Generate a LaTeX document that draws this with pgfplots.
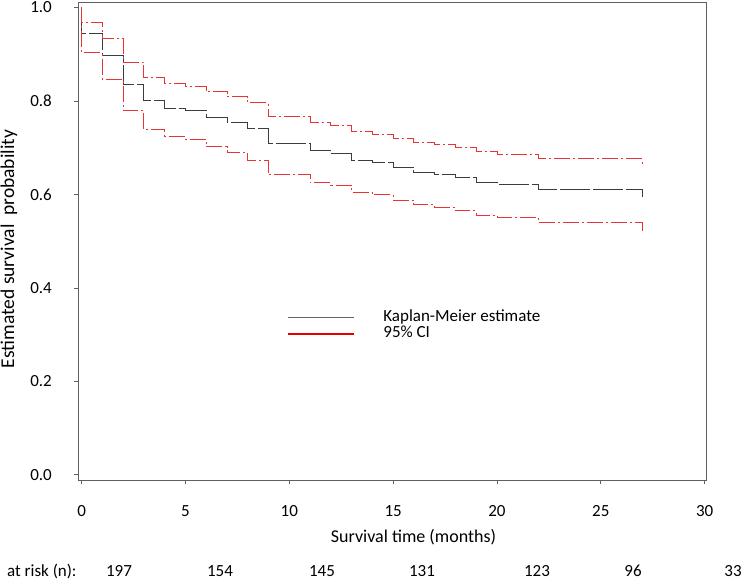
\documentclass[border=0pt]{standalone}
\usepackage{pgfplots}
\pgfplotsset{compat=1.18}
\usepackage{fontspec}
\setmainfont{Carlito}
\definecolor{kmgray}{RGB}{60,60,60}
\definecolor{cired}{RGB}{232,52,52}
\definecolor{framegray}{RGB}{95,95,95}
\begin{document}
\begin{tikzpicture}
\useasboundingbox (-78.3pt,-102.5pt) rectangle (665.7pt,480.5pt);
\begin{axis}[
  at={(0pt,0pt)}, anchor=south west,
  scale only axis, width=628.4pt, height=478.2pt,
  xmin=-0.16, xmax=30.1, ymin=-0.012, ymax=1.011,
  xtick={0,5,...,30}, ytick={0,0.2,0.4,0.6,0.8,1.0},
  tick pos=left, tick align=outside, major tick length=4pt,
  axis line style={framegray, line width=1pt},
  every tick/.style={framegray, line width=0.8pt},
  /pgf/number format/assume math mode=true,
  font=\fontsize{17}{20}\selectfont,
  yticklabel style={/pgf/number format/fixed, /pgf/number format/fixed zerofill, /pgf/number format/precision=1,
    anchor=east, inner sep=0pt, xshift=-22.3pt},
  xticklabel style={anchor=base, inner sep=0pt, yshift=-32.5pt},
  xlabel={Survival time (months)},
  ylabel={Estimated survival\ \ probability},
  xlabel style={at={(axis description cs:0.5334,0)}, anchor=center, inner sep=0pt, yshift=-56.5pt,
    font=\fontsize{18}{21}\selectfont},
  ylabel style={at={(axis description cs:0,0.484)}, anchor=center, inner sep=0pt, yshift=69.3pt,
    font=\fontsize{19.5}{22}\selectfont},
  legend style={draw=none, fill=none, at={(axis description cs:0.3321,0.3231)}, anchor=west,
    inner sep=0pt, row sep=1pt, column sep=29pt,
    nodes={inner sep=0pt, text height=11pt, text depth=4pt},
    font=\fontsize{17}{20}\selectfont},
  legend cell align=left,
]
\addplot[const plot, kmgray, line width=0.9pt, dash pattern=on 30pt off 3pt,
  forget plot] coordinates {
(0,1.0) (0,0.945) (1,0.898) (2,0.836) (3,0.802) (4,0.784) (5,0.780) (6,0.765)
(7,0.754) (8,0.741) (9,0.709) (11,0.694) (12,0.687) (13,0.673) (14,0.668)
(15,0.658) (16,0.647) (17,0.642) (18,0.637) (19,0.626) (20,0.622) (22,0.611) (27,0.595)};
\addplot[const plot, cired, line width=0.9pt, dash pattern=on 16pt off 3pt on 2pt off 3pt,
  forget plot] coordinates {
(0,1.0) (0,0.968) (1,0.933) (2,0.883) (3,0.851) (4,0.838) (5,0.832) (6,0.820)
(7,0.809) (8,0.796) (9,0.766) (11,0.754) (12,0.747) (13,0.734) (14,0.729)
(15,0.720) (16,0.712) (17,0.706) (18,0.701) (19,0.692) (20,0.686) (22,0.676) (27,0.662)};
\addplot[const plot, cired, line width=0.9pt, dash pattern=on 16pt off 3pt on 2pt off 3pt,
  forget plot] coordinates {
(0,1.0) (0,0.903) (1,0.846) (2,0.779) (3,0.738) (4,0.724) (5,0.718) (6,0.702)
(7,0.689) (8,0.672) (9,0.642) (11,0.625) (12,0.619) (13,0.604) (14,0.599)
(15,0.587) (16,0.578) (17,0.573) (18,0.565) (19,0.556) (20,0.551) (22,0.540) (27,0.520)};
\addlegendimage{legend image code/.code={\draw[kmgray!80, line width=1pt] (0pt,0pt) -- (66pt,0pt);}}
\addlegendentry{Kaplan-Meier estimate}
\addlegendimage{legend image code/.code={\draw[red!90!black, line width=1.2pt] (0pt,0pt) -- (66pt,0pt);}}
\addlegendentry{95\% CI}
\end{axis}
\begin{scope}[every node/.style={inner sep=0pt, font=\fontsize{17}{20}\selectfont}]
\node[anchor=base west] at (-71.3pt,-96pt) {at risk (n):};
\node[anchor=base] at (40.7pt,-96pt) {197};
\node[anchor=base] at (141.7pt,-96pt) {154};
\node[anchor=base] at (243.7pt,-96pt) {145};
\node[anchor=base] at (343.7pt,-96pt) {131};
\node[anchor=base] at (458.7pt,-96pt) {123};
\node[anchor=base] at (554.7pt,-96pt) {96};
\node[anchor=base] at (654.7pt,-96pt) {33};
\end{scope}
\end{tikzpicture}
\end{document}
